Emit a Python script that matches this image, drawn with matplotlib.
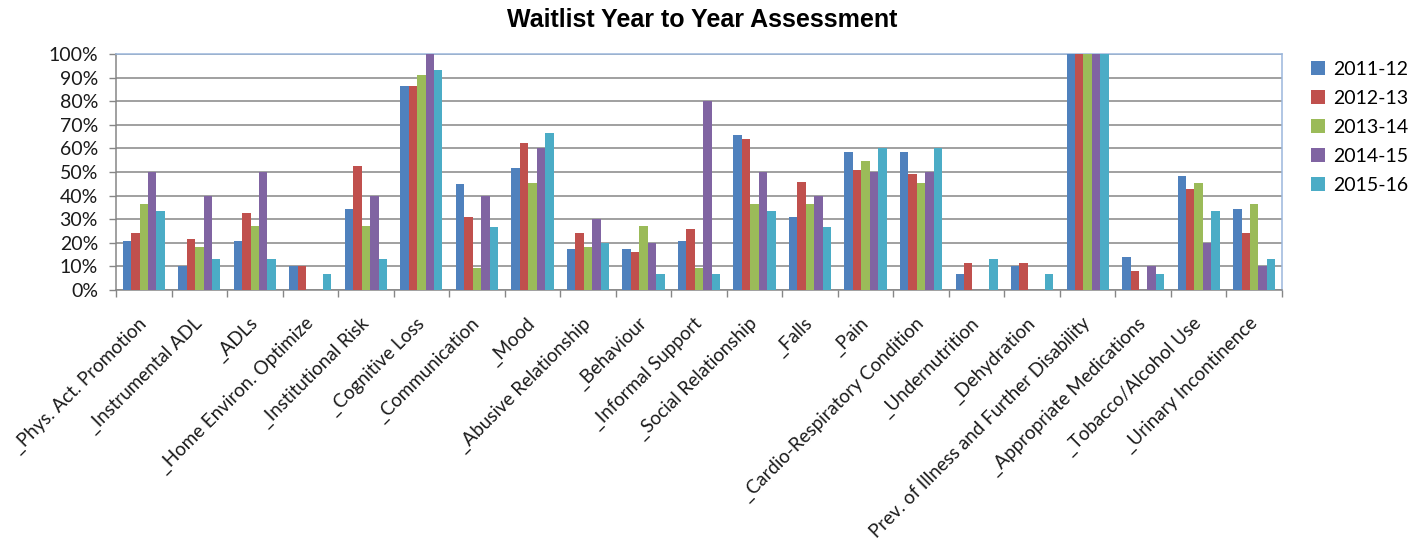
import numpy as np
import matplotlib
matplotlib.use("Agg")
from matplotlib import pyplot as plt
from matplotlib.ticker import PercentFormatter

# categories and yearly results (percent)
categories = ["_Phys. Act. Promotion", "_Instrumental ADL", "_ADLs", "_Home Environ. Optimize",
              "_Institutional Risk", "_Cognitive Loss", "_Communication", "_Mood",
              "_Abusive Relationship", "_Behaviour", "_Informal Support", "_Social Relationship",
              "_Falls", "_Pain", "_Cardio-Respiratory Condition", "_Undernutrition",
              "_Dehydration", "Prev. of Illness and Further Disability", "_Appropriate Medications",
              "_Tobacco/Alcohol Use", "_Urinary Incontinence"]
years = ["2011-12", "2012-13", "2013-14", "2014-15", "2015-16"]

y2011 = [20.7, 10.3, 20.7, 10.3, 34.5, 86.2, 44.8, 51.7, 17.2, 17.2, 20.7, 65.5, 31.0, 58.6, 58.6, 6.9, 10.3, 100, 13.8, 48.3, 34.5]
y2012 = [24.3, 21.6, 32.4, 10.0, 52.5, 86.5, 31.1, 62.2, 24.3, 16.2, 25.9, 64.1, 45.6, 50.8, 49.1, 11.6, 11.6, 100, 8.1, 42.7, 24.3]
y2013 = [36.4, 18.2, 27.3, 0, 27.3, 90.9, 9.1, 45.5, 18.2, 27.3, 9.1, 36.4, 36.4, 54.5, 45.5, 0, 0, 100, 0, 45.5, 36.4]
y2014 = [50, 40, 50, 0, 40, 100, 40, 60, 30, 20, 80, 50, 40, 50, 50, 0, 0, 100, 10, 20, 10]
y2015 = [33.3, 13.3, 13.3, 6.7, 13.3, 93.3, 26.7, 66.7, 20.0, 6.7, 6.7, 33.3, 26.7, 60.0, 60.0, 13.3, 6.7, 100, 6.7, 33.3, 13.3]
series = [y2011, y2012, y2013, y2014, y2015]
colors = ["#4F81BD", "#C0504D", "#9BBB59", "#8064A2", "#4BACC6"]

label_font = ["Lato", "DejaVu Sans"]
grid_col = "#868686"

fig = plt.figure(figsize=(14.15, 5.39), dpi=100)
ax = fig.add_axes([0.082, 0.462, 0.824, 0.438])

x = np.arange(len(categories))
w = 0.152
for i, (vals, c) in enumerate(zip(series, colors)):
    ax.bar(x + (i - 2) * w, vals, width=w, color=c, label=years[i], zorder=3)

ax.set_xlim(-0.5, len(categories) - 0.5)
ax.set_ylim(0, 100)
ax.set_yticks(np.arange(0, 101, 10))
ax.yaxis.set_major_formatter(PercentFormatter(decimals=0))
ax.grid(axis="y", color=grid_col, linewidth=1.1, zorder=0)

# category labels sit between boundary ticks
ax.set_xticks(np.arange(-0.5, len(categories), 1.0))
ax.set_xticklabels([])
ax.set_xticks(x, minor=True)
ax.set_xticklabels(categories, minor=True, rotation=45, ha="right", va="center",
                   rotation_mode="anchor", fontsize=13.5, family=label_font, color="#1a1a1a")
ax.tick_params(axis="x", which="minor", length=0, pad=22)
ax.tick_params(axis="x", which="major", length=5, color=grid_col, width=1)
ax.tick_params(axis="y", length=5, color=grid_col, width=1, pad=8)
for lab in ax.get_yticklabels():
    lab.set_family(label_font)
    lab.set_fontsize(14)
    lab.set_color("#1a1a1a")

for side in ["left", "bottom"]:
    ax.spines[side].set_color(grid_col)
    ax.spines[side].set_linewidth(1.1)
for side in ["top", "right"]:
    ax.spines[side].set_color("#9bb7dc")
    ax.spines[side].set_linewidth(1.1)

fig.text(0.496, 0.963, "Waitlist Year to Year Assessment", ha="center", va="center",
         fontsize=18, fontweight="bold", family=["Liberation Sans", "DejaVu Sans"])

fig.legend(loc="upper left", bbox_to_anchor=(0.921, 0.902), frameon=False,
           prop={"family": label_font, "size": 14}, handlelength=0.7, handleheight=0.7,
           handletextpad=0.45, labelspacing=0.62, borderaxespad=0)

fig.savefig("out.png", dpi=100)
